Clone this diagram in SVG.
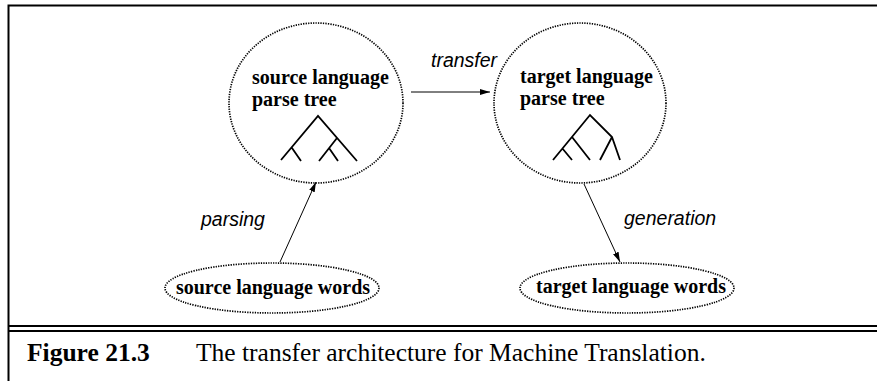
<svg xmlns="http://www.w3.org/2000/svg" width="877" height="381" viewBox="0 0 877 381">
<style>
.dot{fill:none;stroke:#000;stroke-width:1.7;stroke-dasharray:1.3 1.2}
.tree{fill:none;stroke:#000;stroke-width:1.8;stroke-linecap:butt}
.lbl{font-family:"Liberation Serif",serif;font-weight:bold;font-size:20px;fill:#000}
.edge{font-family:"Liberation Sans",sans-serif;font-style:italic;font-size:19.5px;fill:#000}
.conn{stroke:#000;stroke-width:1;fill:none;marker-end:url(#ah)}
.frame{stroke:#000;stroke-width:2;fill:none}
.cap{font-family:"Liberation Serif",serif;font-size:25.5px;fill:#000}
</style>
<defs>
<marker id="ah" viewBox="0 0 10 6" refX="10" refY="3" markerWidth="10" markerHeight="6" markerUnits="userSpaceOnUse" orient="auto">
<path d="M0,0 L10,3 L0,6 Z" fill="#000"/>
</marker>
</defs>
<g id="frame">
<path class="frame" d="M8.5,381 V5.5 H877"/>
<path class="frame" d="M8,326 H877 M8,331 H877"/>
</g>
<g id="source-tree">
<ellipse class="dot" cx="316" cy="103" rx="87" ry="80"/>
<text class="lbl" x="252" y="84">source language</text>
<text class="lbl" x="252" y="106">parse tree</text>
<path class="tree" d="M281,160 L318,116 L357,161 M292,148 L301,161 M337,138 L319,161 M329,148 L338,161"/>
</g>
<g id="target-tree">
<ellipse class="dot" cx="580" cy="103" rx="86" ry="80"/>
<text class="lbl" x="520" y="83">target language</text>
<text class="lbl" x="520" y="105">parse tree</text>
<path class="tree" d="M553,160 L590,115 L612,137 L620,160 M612,137 L600,160 M572,137 L590,160 M562,148 L572,160"/>
</g>
<g id="source-words">
<ellipse class="dot" cx="272" cy="288" rx="107" ry="25"/>
<text class="lbl" x="273" y="294" text-anchor="middle">source language words</text>
</g>
<g id="target-words">
<ellipse class="dot" cx="627" cy="288" rx="107" ry="25"/>
<text class="lbl" x="631" y="293" text-anchor="middle">target language words</text>
</g>
<g id="connectors">
<line class="conn" x1="411" y1="92" x2="490" y2="92"/>
<text class="edge" x="431" y="67">transfer</text>
<line class="conn" x1="280" y1="262" x2="316" y2="182"/>
<text class="edge" x="201" y="226">parsing</text>
<line class="conn" x1="584" y1="184" x2="620" y2="262"/>
<text class="edge" x="624" y="225">generation</text>
</g>
<g id="caption">
<text class="cap" x="27" y="361" font-weight="bold">Figure 21.3</text>
<text class="cap" x="196" y="361">The transfer architecture for Machine Translation.</text>
</g>
</svg>
